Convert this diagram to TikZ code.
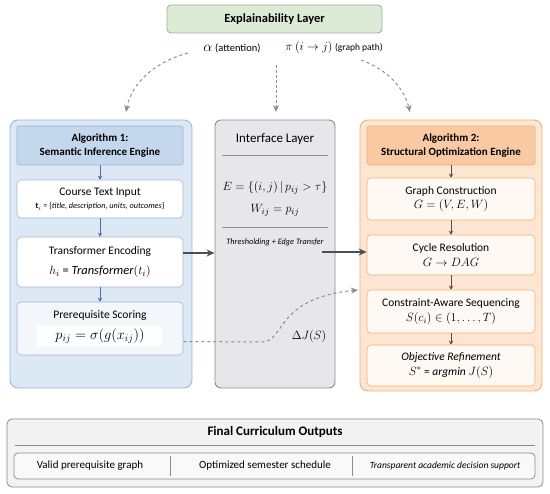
\documentclass[tikz,border=0pt]{standalone}
\usepackage{fontspec}
\setmainfont{Carlito}
\usepackage{xcolor}
\usepackage{tikz}
\usetikzlibrary{positioning, arrows.meta}

\definecolor{greenfill}{HTML}{DCEBD5}
\definecolor{greenline}{HTML}{93B38C}
\definecolor{bluefill}{HTML}{DDE8F5}
\definecolor{bluehead}{HTML}{C4D7ED}
\definecolor{blueline}{HTML}{9DB7D8}
\definecolor{bluearrow}{HTML}{4D6FA3}
\definecolor{orangefill}{HTML}{FDE6D1}
\definecolor{orangehead}{HTML}{F8C9A2}
\definecolor{orangeline}{HTML}{EFB07A}
\definecolor{grayfill}{HTML}{E7E7E9}
\definecolor{grayline}{HTML}{8C8C8C}
\definecolor{darkline}{HTML}{4F4F4F}
\definecolor{outfill}{HTML}{F3F3F3}

\tikzset{
  algpanel/.style={draw, rounded corners=8pt, line width=0.9pt},
  headbox/.style={draw, line width=0.6pt, rounded corners=1.5pt, align=center, minimum width=166pt, minimum height=39pt,
    font=\bfseries\fontsize{11}{13.5}\selectfont},
  stepbox/.style={draw, fill=white, rounded corners=4pt, line width=0.6pt, align=center,
    minimum width=166pt, font=\fontsize{11.5}{14.5}\selectfont},
  flowarrow/.style={-{Stealth[length=4pt,width=4.5pt]}, line width=1pt},
  linkarrow/.style={-{Stealth[length=8pt,width=7pt]}, line width=1.3pt, darkline},
  hintarrow/.style={-{Stealth[length=7pt,width=6pt]}, line width=1pt, dashed, grayline},
}

\begin{document}
\begin{tikzpicture}[x=1pt, y=-1pt, on grid, font=\fontsize{11.5}{14}\selectfont]
  \useasboundingbox (0,0) rectangle (550,494);

  % explainability layer on top
  \node[draw=greenline, fill=greenfill, rounded corners=4pt, line width=0.8pt, minimum width=215pt,
    minimum height=28pt, font=\bfseries\fontsize{12.5}{15}\selectfont] (explain) at (274.5,19) {Explainability Layer};
  \node (attn) at (232,48) {{\Large$\alpha$} {\fontsize{10.5}{12}\selectfont(attention)}};
  \node (gpath) at (334,48) {{\large$\pi\ (i\to j)$} {\fontsize{9.5}{11}\selectfont(graph path)}};

  % algorithm 1
  \node[algpanel, fill=bluefill, draw=blueline, minimum width=182pt, minimum height=268pt] (alg1) at (101,254) {};
  \node[headbox, fill=bluehead, draw=blueline] (alg1head) at (100,145.5) {Algorithm 1:\\Semantic Inference Engine};
  \node[stepbox, draw=blueline, minimum height=38pt] (course) [below=53.5pt of alg1head]
    {Course Text Input\\[-1pt]{\fontsize{8.2}{10}\selectfont$\mathbf{t}_i$ = \{\textit{title, description, units, outcomes}\}}};
  \node[stepbox, draw=blueline, minimum height=50pt] (transformer) [below=63pt of course]
    {Transformer Encoding\\[5pt]{\fontsize{12.5}{14}\selectfont$h_i$ = \textit{Transformer}$(t_i)$}};
  \node[stepbox, draw=blueline, fill=bluefill!35, minimum height=53pt] (prereq) [below=66.5pt of transformer]
    {Prerequisite Scoring\\[5pt]{\setlength{\fboxsep}{2.5pt}\colorbox{white}{\makebox[120pt]{\fontsize{14}{16}\selectfont$p_{ij} = \sigma\bigl(g(x_{ij})\bigr)$}}}};

  % interface layer
  \node[algpanel, fill=grayfill, draw=grayline, rounded corners=6pt, minimum width=120pt, minimum height=268pt] (iface) at (275,254) {};
  \node[font=\fontsize{13}{15}\selectfont] (ifacetitle) at (275,139) {Interface Layer};
  \draw[grayline, line width=0.8pt] (222,155) -- (328,155);
  \node[font=\fontsize{13}{15}\selectfont] (edgeset) at (275,188) {$E=\{(i,j)\,|\,p_{ij}>\tau\}$};
  \node[font=\fontsize{13}{15}\selectfont] (weights) at (275,210) {$W_{ij}=p_{ij}$};
  \draw[grayline, line width=0.8pt] (222,227) -- (328,227);
  \node[font=\itshape\fontsize{8.3}{10}\selectfont] (thresh) at (275,242) {Thresholding + Edge Transfer};
  \node[font=\fontsize{13}{15}\selectfont] (deltaj) at (309,337) {$\Delta J(S)$};

  % algorithm 2
  \node[algpanel, fill=orangefill, draw=orangeline, minimum width=182pt, minimum height=271pt] (alg2) at (451,255.5) {};
  \node[headbox, fill=orangehead, draw=orangeline, minimum width=168pt] (alg2head) at (451,145.5) {Algorithm 2:\\Structural Optimization Engine};
  \node[stepbox, draw=orangeline, fill=orangefill!25, minimum width=168pt, minimum height=42pt] (graph) [below=53.5pt of alg2head]
    {Graph Construction\\$G=(V,E,W)$};
  \node[stepbox, draw=orangeline, fill=orangefill!25, minimum width=168pt, minimum height=40pt] (cycle) [below=56pt of graph]
    {Cycle Resolution\\$G\to DAG$};
  \node[stepbox, draw=orangeline, fill=orangefill!25, minimum width=168pt, minimum height=43pt] (constraint) [below=56.5pt of cycle]
    {Constraint-Aware Sequencing\\$S(c_i)\in(1,\dots,T)$};
  \node[stepbox, draw=orangeline, fill=orangefill!25, minimum width=168pt, minimum height=41pt] (objective) [below=54pt of constraint]
    {\textit{Objective Refinement}\\$S^{*}$ = \textit{argmin} $J(S)$};

  % final outputs
  \node[draw=grayline, fill=outfill, rounded corners=5pt, line width=0.8pt, minimum width=536pt, minimum height=68pt] (outputs) at (275,453) {};
  \node[font=\bfseries\fontsize{13}{15}\selectfont] (outtitle) at (275,432) {Final Curriculum Outputs};
  \draw[grayline, line width=0.8pt] (15,445) -- (535,445);
  \node[draw=grayline, fill=outfill!50, rounded corners=4pt, line width=0.8pt, minimum width=521pt, minimum height=26pt] (outrow) at (274.5,466) {};
  \draw[grayline, line width=0.8pt] (170,456) -- (170,476);
  \draw[grayline, line width=0.8pt] (352,456) -- (352,476);
  \node[font=\fontsize{11}{13}\selectfont] (validgraph) at (90,466) {Valid prerequisite graph};
  \node[font=\fontsize{11}{13}\selectfont] (schedule) at (265,466) {Optimized semester schedule};
  \node[font=\itshape\fontsize{9.5}{11}\selectfont] (support) at (445,466) {Transparent academic decision support};

  % connectors
  \coordinate (attnout) at (188,53);
  \coordinate (gpathout) at (361,60);
  \coordinate (ifacein) at (276,65);
  \coordinate (alg1in) at (126,112);
  \coordinate (alg2in) at (410,112);
  \coordinate (ifacetop) at (276,112);
  \coordinate (encout) at ([yshift=9pt]transformer.east);
  \coordinate (transout) at (322,252);
  \coordinate (scoreout) at ([yshift=-13pt]prereq.east);
  \coordinate (feedin) at (358,290);

  \draw[hintarrow] (attnout) .. controls (160,60) and (132,80) .. (alg1in);
  \draw[hintarrow] (gpathout) .. controls (388,70) and (404,88) .. (alg2in);
  \draw[hintarrow, dash pattern=on 3pt off 2pt] (ifacein) -- (ifacetop);

  \path[flowarrow, bluearrow]
    (alg1head) edge (course)
    (course) edge (transformer)
    (transformer) edge (prereq);
  \path[flowarrow, darkline]
    (alg2head) edge (graph)
    (graph) edge (cycle)
    (cycle) edge (constraint)
    (constraint) edge (objective);

  \draw[linkarrow] (encout) -- (encout -| iface.west);
  \draw[linkarrow] (transout) -- (transout -| cycle.west);
  \draw[hintarrow] (scoreout) -- (262,342) .. controls (285,342) and (275,298) .. (feedin);
\end{tikzpicture}
\end{document}
